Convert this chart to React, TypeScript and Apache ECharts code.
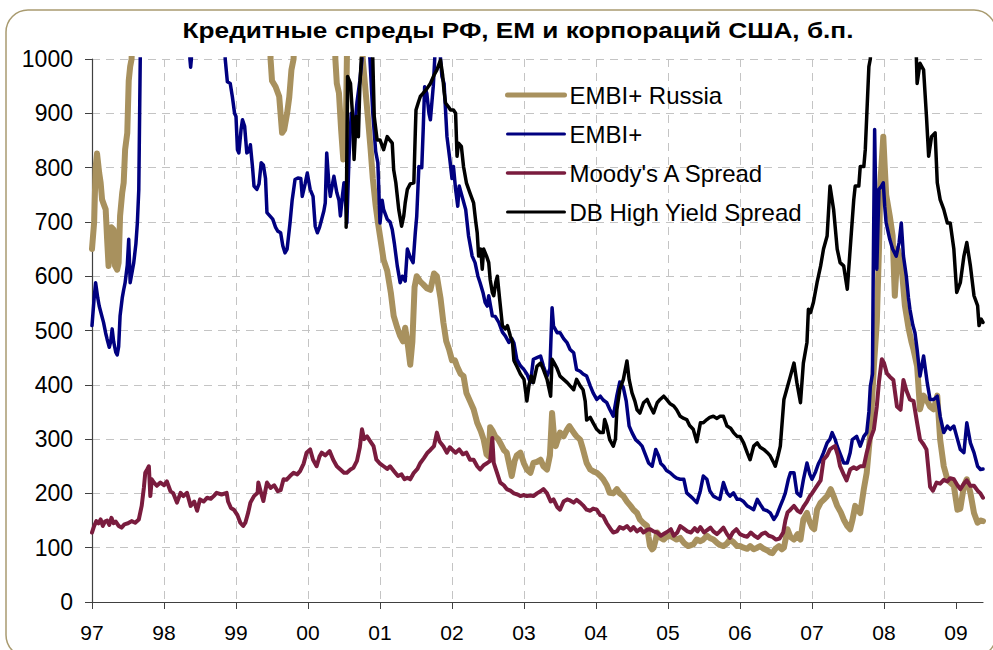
import React, { useEffect, useRef } from "react";
import * as echarts from "echarts";

const TITLE = "Кредитные спреды РФ, ЕМ и корпораций США, б.п.";
const yearTicks = [1997, 1998, 1999, 2000, 2001, 2002, 2003, 2004, 2005, 2006, 2007, 2008, 2009];
const seriesNames = ["EMBI+ Russia", "EMBI+", "Moody's A Spread", "DB High Yield Spread"];

// [year, spread b.p.] — values above 1000 are clipped off the chart
const embiRussia: [number, number][] = [
  [1997.0, 650], [1997.03, 700], [1997.05, 800], [1997.07, 826], [1997.1, 790], [1997.12, 772], [1997.14, 741],
  [1997.17, 730], [1997.19, 723], [1997.21, 668], [1997.23, 619], [1997.25, 640], [1997.27, 690], [1997.3, 686],
  [1997.32, 619], [1997.35, 612], [1997.37, 625], [1997.39, 711], [1997.42, 754], [1997.44, 772], [1997.46, 833],
  [1997.49, 864], [1997.51, 960], [1997.53, 986], [1997.55, 1000], [1997.6, 1400], [1999.45, 1400], [1999.48, 1000],
  [1999.5, 960], [1999.55, 949], [1999.6, 931], [1999.64, 864], [1999.67, 870], [1999.71, 900], [1999.74, 930],
  [1999.77, 980], [1999.8, 1000], [1999.85, 1400], [2000.35, 1400], [2000.38, 1000], [2000.4, 955], [2000.43, 937],
  [2000.46, 870], [2000.49, 815], [2000.52, 820], [2000.54, 1000], [2000.58, 1400], [2000.72, 1400], [2000.76, 1000],
  [2000.8, 940], [2000.84, 880], [2000.87, 833], [2000.9, 780], [2000.94, 730], [2000.97, 700], [2001.0, 674],
  [2001.05, 630], [2001.1, 610], [2001.15, 570], [2001.19, 527], [2001.24, 505], [2001.28, 490], [2001.32, 480],
  [2001.35, 505], [2001.39, 470], [2001.42, 437], [2001.45, 480], [2001.48, 580], [2001.51, 600], [2001.56, 590],
  [2001.6, 585], [2001.65, 578], [2001.7, 575], [2001.75, 605], [2001.79, 600], [2001.84, 560], [2001.88, 515],
  [2001.92, 480], [2001.96, 465], [2002.0, 445], [2002.04, 445], [2002.07, 434], [2002.12, 420], [2002.16, 416],
  [2002.2, 385], [2002.25, 370], [2002.3, 355], [2002.35, 330], [2002.4, 315], [2002.44, 299], [2002.48, 272],
  [2002.51, 268], [2002.53, 322], [2002.56, 316], [2002.6, 305], [2002.64, 300], [2002.67, 293], [2002.72, 280],
  [2002.76, 275], [2002.8, 250], [2002.83, 232], [2002.87, 260], [2002.9, 270], [2002.95, 275], [2003.0, 255],
  [2003.04, 244], [2003.09, 238], [2003.13, 256], [2003.18, 258], [2003.23, 262], [2003.27, 250], [2003.32, 244],
  [2003.36, 270], [2003.39, 348], [2003.42, 300], [2003.44, 287], [2003.5, 312], [2003.55, 305], [2003.6, 318],
  [2003.63, 324], [2003.66, 318], [2003.7, 310], [2003.73, 305], [2003.78, 299], [2003.82, 281], [2003.87, 256],
  [2003.92, 244], [2003.97, 240], [2004.01, 238], [2004.06, 232], [2004.1, 226], [2004.15, 215], [2004.19, 201],
  [2004.24, 200], [2004.29, 208], [2004.33, 200], [2004.38, 195], [2004.43, 185], [2004.48, 177], [2004.52, 170],
  [2004.57, 164], [2004.61, 152], [2004.66, 145], [2004.71, 140], [2004.73, 120], [2004.75, 103], [2004.78, 97],
  [2004.8, 100], [2004.83, 115], [2004.85, 128], [2004.9, 118], [2004.94, 115], [2004.98, 120], [2005.03, 122],
  [2005.08, 118], [2005.12, 115], [2005.17, 118], [2005.22, 109], [2005.28, 103], [2005.35, 106], [2005.4, 115],
  [2005.45, 112], [2005.49, 115], [2005.54, 122], [2005.58, 118], [2005.63, 115], [2005.68, 109], [2005.72, 105],
  [2005.77, 103], [2005.82, 108], [2005.86, 115], [2005.91, 110], [2005.96, 103], [2006.0, 103], [2006.05, 100],
  [2006.1, 98], [2006.14, 103], [2006.19, 97], [2006.24, 100], [2006.28, 103], [2006.33, 98], [2006.38, 95],
  [2006.42, 91], [2006.45, 90], [2006.49, 98], [2006.54, 103], [2006.58, 97], [2006.61, 100], [2006.66, 134],
  [2006.7, 120], [2006.75, 115], [2006.8, 125], [2006.84, 115], [2006.88, 152], [2006.93, 164], [2006.96, 150],
  [2007.0, 138], [2007.03, 134], [2007.07, 170], [2007.12, 183], [2007.16, 188], [2007.21, 195], [2007.26, 208],
  [2007.3, 195], [2007.35, 177], [2007.4, 165], [2007.44, 152], [2007.49, 140], [2007.53, 134], [2007.56, 150],
  [2007.6, 177], [2007.63, 170], [2007.67, 164], [2007.72, 208], [2007.76, 238], [2007.81, 312], [2007.86, 435],
  [2007.9, 515], [2007.93, 650], [2007.95, 772], [2007.99, 857], [2008.01, 802], [2008.03, 750], [2008.08, 711],
  [2008.12, 674], [2008.15, 564], [2008.19, 650], [2008.24, 625], [2008.29, 546], [2008.34, 505], [2008.38, 480],
  [2008.41, 465], [2008.46, 434], [2008.5, 355], [2008.55, 380], [2008.6, 370], [2008.64, 360], [2008.69, 355],
  [2008.74, 380], [2008.78, 299], [2008.83, 250], [2008.88, 226], [2008.92, 220], [2008.97, 214], [2009.02, 170],
  [2009.06, 172], [2009.11, 214], [2009.15, 226], [2009.2, 201], [2009.25, 164], [2009.3, 146], [2009.34, 150],
  [2009.375, 149],
];

const embiPlus: [number, number][] = [
  [1997.0, 509], [1997.03, 560], [1997.05, 588], [1997.08, 560], [1997.1, 545], [1997.13, 530], [1997.16, 515],
  [1997.19, 495], [1997.21, 484], [1997.24, 469], [1997.26, 480], [1997.28, 503], [1997.3, 480], [1997.33, 460],
  [1997.35, 455], [1997.37, 470], [1997.39, 527], [1997.42, 560], [1997.44, 575], [1997.46, 588], [1997.49, 620],
  [1997.51, 668], [1997.53, 588], [1997.56, 610], [1997.58, 625], [1997.61, 660], [1997.63, 698], [1997.65, 760],
  [1997.67, 1000], [1997.7, 1400], [1998.33, 1400], [1998.36, 1000], [1998.37, 985], [1998.38, 1000], [1998.42, 1400],
  [1998.82, 1400], [1998.85, 1000], [1998.88, 958], [1998.92, 955], [1998.95, 930], [1998.98, 900], [1999.0, 894],
  [1999.02, 833], [1999.04, 827], [1999.07, 870], [1999.09, 888], [1999.12, 876], [1999.15, 827], [1999.18, 830],
  [1999.2, 842], [1999.23, 800], [1999.25, 766], [1999.29, 760], [1999.32, 770], [1999.35, 809], [1999.38, 805],
  [1999.41, 780], [1999.43, 717], [1999.47, 711], [1999.51, 705], [1999.55, 690], [1999.58, 683], [1999.62, 680],
  [1999.65, 656], [1999.68, 643], [1999.71, 650], [1999.75, 698], [1999.78, 740], [1999.82, 778], [1999.86, 781],
  [1999.9, 780], [1999.92, 747], [1999.96, 770], [1999.99, 790], [2000.03, 760], [2000.07, 747], [2000.1, 692],
  [2000.13, 680], [2000.16, 690], [2000.19, 705], [2000.22, 720], [2000.24, 735], [2000.26, 827], [2000.29, 770],
  [2000.31, 747], [2000.34, 770], [2000.36, 784], [2000.4, 754], [2000.43, 740], [2000.45, 711], [2000.48, 750],
  [2000.5, 772], [2000.52, 740], [2000.54, 698], [2000.57, 820], [2000.6, 900], [2000.64, 860], [2000.68, 920],
  [2000.72, 960], [2000.75, 1000], [2000.78, 1100], [2000.82, 1050], [2000.86, 1000], [2000.9, 900], [2000.94, 830],
  [2000.97, 809], [2001.0, 698], [2001.03, 740], [2001.05, 723], [2001.1, 705], [2001.14, 700], [2001.17, 686],
  [2001.2, 660], [2001.24, 619], [2001.28, 588], [2001.31, 600], [2001.35, 591], [2001.38, 650], [2001.42, 635],
  [2001.46, 625], [2001.49, 680], [2001.51, 710], [2001.54, 802], [2001.58, 800], [2001.6, 870], [2001.62, 949],
  [2001.65, 937], [2001.68, 900], [2001.7, 888], [2001.74, 950], [2001.76, 1000], [2001.78, 1100], [2001.82, 1100],
  [2001.84, 1000], [2001.86, 968], [2001.89, 955], [2001.93, 857], [2001.97, 815], [2002.0, 780], [2002.02, 802],
  [2002.05, 760], [2002.08, 729], [2002.1, 766], [2002.14, 747], [2002.19, 723], [2002.23, 674], [2002.28, 637],
  [2002.32, 625], [2002.36, 600], [2002.39, 588], [2002.43, 570], [2002.46, 552], [2002.49, 545], [2002.51, 564],
  [2002.56, 527], [2002.6, 526], [2002.65, 515], [2002.7, 497], [2002.74, 490], [2002.79, 478], [2002.83, 485],
  [2002.86, 477], [2002.9, 447], [2002.95, 435], [2003.0, 428], [2003.04, 420], [2003.09, 404], [2003.13, 447],
  [2003.18, 450], [2003.23, 453], [2003.27, 434], [2003.32, 416], [2003.36, 430], [2003.39, 542], [2003.41, 508],
  [2003.46, 496], [2003.5, 496], [2003.55, 485], [2003.6, 477], [2003.64, 465], [2003.69, 459], [2003.73, 428],
  [2003.78, 425], [2003.82, 420], [2003.87, 416], [2003.92, 398], [2003.96, 385], [2004.01, 373], [2004.06, 379],
  [2004.1, 372], [2004.15, 367], [2004.19, 355], [2004.24, 342], [2004.29, 380], [2004.33, 405], [2004.38, 395],
  [2004.42, 370], [2004.46, 324], [2004.5, 312], [2004.55, 299], [2004.6, 293], [2004.64, 287], [2004.69, 270],
  [2004.73, 256], [2004.78, 250], [2004.83, 281], [2004.87, 269], [2004.9, 255], [2004.94, 250], [2004.98, 242],
  [2005.03, 238], [2005.08, 232], [2005.12, 228], [2005.17, 226], [2005.22, 226], [2005.26, 201], [2005.31, 195],
  [2005.35, 190], [2005.4, 183], [2005.45, 205], [2005.49, 232], [2005.54, 226], [2005.58, 205], [2005.63, 195],
  [2005.67, 192], [2005.72, 189], [2005.77, 220], [2005.82, 201], [2005.86, 195], [2005.91, 201], [2005.96, 189],
  [2006.0, 189], [2006.05, 185], [2006.1, 177], [2006.14, 174], [2006.19, 170], [2006.24, 189], [2006.28, 180],
  [2006.33, 170], [2006.38, 168], [2006.42, 164], [2006.47, 152], [2006.51, 160], [2006.56, 177], [2006.6, 190],
  [2006.63, 201], [2006.67, 225], [2006.7, 238], [2006.75, 238], [2006.79, 201], [2006.84, 195], [2006.88, 225],
  [2006.93, 256], [2006.97, 235], [2007.0, 226], [2007.05, 240], [2007.09, 255], [2007.12, 262], [2007.16, 275],
  [2007.21, 293], [2007.25, 300], [2007.28, 312], [2007.32, 300], [2007.35, 287], [2007.4, 270], [2007.44, 256],
  [2007.49, 256], [2007.53, 275], [2007.56, 299], [2007.62, 305], [2007.67, 287], [2007.72, 305], [2007.76, 312],
  [2007.79, 350], [2007.81, 397], [2007.84, 420], [2007.85, 600], [2007.87, 870], [2007.89, 700], [2007.9, 613],
  [2007.93, 760], [2007.96, 765], [2007.99, 772], [2008.01, 729], [2008.03, 698], [2008.08, 668], [2008.12, 650],
  [2008.17, 637], [2008.21, 662], [2008.24, 698], [2008.27, 637], [2008.31, 600], [2008.34, 560], [2008.36, 539],
  [2008.4, 510], [2008.43, 496], [2008.46, 465], [2008.5, 416], [2008.55, 453], [2008.6, 404], [2008.64, 373],
  [2008.69, 373], [2008.74, 379], [2008.78, 342], [2008.83, 312], [2008.88, 324], [2008.92, 318], [2008.97, 324],
  [2009.02, 300], [2009.06, 281], [2009.11, 275], [2009.15, 330], [2009.2, 293], [2009.25, 275], [2009.3, 250],
  [2009.34, 244], [2009.375, 245],
];

const moodysA: [number, number][] = [
  [1997.0, 128], [1997.03, 140], [1997.06, 149], [1997.09, 145], [1997.12, 152], [1997.15, 140], [1997.18, 148],
  [1997.21, 150], [1997.24, 142], [1997.27, 155], [1997.3, 145], [1997.33, 148], [1997.37, 140], [1997.41, 137],
  [1997.45, 143], [1997.5, 145], [1997.55, 149], [1997.6, 146], [1997.65, 152], [1997.69, 177], [1997.72, 210],
  [1997.74, 238], [1997.77, 245], [1997.79, 250], [1997.81, 195], [1997.83, 226], [1997.86, 220], [1997.9, 214],
  [1997.95, 220], [1998.0, 215], [1998.04, 222], [1998.09, 204], [1998.13, 200], [1998.18, 183], [1998.23, 201],
  [1998.27, 195], [1998.32, 201], [1998.37, 177], [1998.42, 185], [1998.46, 168], [1998.5, 189], [1998.55, 185],
  [1998.6, 192], [1998.65, 190], [1998.69, 195], [1998.73, 201], [1998.8, 198], [1998.87, 201], [1998.89, 185],
  [1998.93, 173], [1998.97, 170], [1999.02, 160], [1999.06, 146], [1999.1, 140], [1999.13, 146], [1999.17, 165],
  [1999.2, 183], [1999.25, 195], [1999.3, 201], [1999.31, 220], [1999.34, 205], [1999.38, 186], [1999.43, 220],
  [1999.48, 210], [1999.53, 215], [1999.58, 204], [1999.62, 206], [1999.66, 226], [1999.7, 225], [1999.75, 232],
  [1999.8, 238], [1999.85, 235], [1999.89, 241], [1999.94, 255], [1999.98, 275], [2000.03, 281], [2000.07, 262],
  [2000.12, 250], [2000.16, 268], [2000.19, 275], [2000.24, 270], [2000.3, 278], [2000.35, 262], [2000.4, 250],
  [2000.45, 244], [2000.5, 238], [2000.54, 238], [2000.59, 244], [2000.63, 247], [2000.68, 260], [2000.72, 285],
  [2000.75, 318], [2000.78, 300], [2000.82, 305], [2000.87, 295], [2000.91, 287], [2000.95, 262], [2001.0, 255],
  [2001.05, 250], [2001.1, 245], [2001.14, 250], [2001.2, 240], [2001.25, 232], [2001.3, 235], [2001.34, 226],
  [2001.38, 229], [2001.42, 226], [2001.47, 238], [2001.52, 245], [2001.56, 256], [2001.61, 265], [2001.66, 275],
  [2001.7, 280], [2001.75, 287], [2001.79, 312], [2001.83, 295], [2001.88, 287], [2001.93, 275], [2001.97, 285],
  [2002.0, 281], [2002.05, 275], [2002.1, 281], [2002.15, 272], [2002.2, 275], [2002.25, 262], [2002.3, 262],
  [2002.35, 250], [2002.39, 244], [2002.44, 252], [2002.49, 256], [2002.53, 260], [2002.56, 302], [2002.58, 256],
  [2002.62, 240], [2002.67, 220], [2002.72, 215], [2002.76, 208], [2002.81, 205], [2002.86, 200], [2002.91, 198],
  [2002.95, 195], [2003.0, 197], [2003.04, 195], [2003.09, 196], [2003.13, 195], [2003.18, 200], [2003.23, 204],
  [2003.27, 208], [2003.32, 200], [2003.37, 185], [2003.41, 189], [2003.46, 175], [2003.5, 170], [2003.55, 185],
  [2003.6, 189], [2003.64, 187], [2003.69, 183], [2003.73, 188], [2003.78, 183], [2003.82, 178], [2003.87, 170],
  [2003.92, 168], [2003.96, 172], [2004.01, 170], [2004.06, 160], [2004.1, 158], [2004.15, 145], [2004.2, 135],
  [2004.24, 128], [2004.29, 130], [2004.33, 138], [2004.38, 135], [2004.43, 140], [2004.48, 132], [2004.52, 138],
  [2004.57, 130], [2004.62, 135], [2004.66, 128], [2004.71, 133], [2004.75, 134], [2004.8, 130], [2004.85, 128],
  [2004.9, 122], [2004.95, 126], [2005.0, 130], [2005.04, 134], [2005.08, 122], [2005.13, 128], [2005.17, 140],
  [2005.22, 135], [2005.27, 130], [2005.32, 128], [2005.37, 136], [2005.41, 130], [2005.45, 138], [2005.5, 128],
  [2005.54, 132], [2005.59, 137], [2005.63, 130], [2005.68, 125], [2005.72, 130], [2005.77, 137], [2005.82, 125],
  [2005.86, 118], [2005.9, 128], [2005.95, 134], [2006.0, 125], [2006.05, 122], [2006.1, 120], [2006.15, 128],
  [2006.2, 122], [2006.25, 118], [2006.3, 125], [2006.35, 128], [2006.4, 122], [2006.45, 120], [2006.5, 115],
  [2006.55, 117], [2006.6, 128], [2006.63, 150], [2006.66, 165], [2006.7, 170], [2006.75, 177], [2006.8, 168],
  [2006.84, 165], [2006.88, 175], [2006.93, 185], [2006.97, 195], [2007.0, 200], [2007.05, 210], [2007.09, 218],
  [2007.12, 224], [2007.16, 262], [2007.21, 270], [2007.25, 281], [2007.29, 285], [2007.32, 287], [2007.36, 270],
  [2007.39, 250], [2007.44, 235], [2007.48, 224], [2007.53, 244], [2007.58, 248], [2007.62, 245], [2007.67, 250],
  [2007.72, 250], [2007.76, 275], [2007.81, 300], [2007.86, 318], [2007.9, 360], [2007.93, 405], [2007.97, 447],
  [2008.0, 440], [2008.04, 421], [2008.08, 415], [2008.13, 409], [2008.18, 360], [2008.23, 354], [2008.27, 409],
  [2008.31, 390], [2008.36, 373], [2008.41, 370], [2008.46, 330], [2008.5, 299], [2008.55, 290], [2008.59, 281],
  [2008.62, 240], [2008.64, 212], [2008.68, 205], [2008.73, 220], [2008.78, 218], [2008.83, 225], [2008.88, 222],
  [2008.92, 228], [2008.97, 226], [2009.02, 215], [2009.06, 208], [2009.11, 218], [2009.15, 224], [2009.2, 214],
  [2009.25, 214], [2009.3, 205], [2009.34, 200], [2009.375, 192],
];

const dbHighYield: [number, number][] = [
  [2000.53, 690], [2000.55, 968], [2000.59, 955], [2000.62, 894], [2000.64, 815], [2000.67, 894], [2000.7, 857],
  [2000.72, 950], [2000.74, 1000], [2000.76, 1100], [2000.88, 1100], [2000.9, 1000], [2000.92, 894], [2000.96, 851],
  [2001.0, 851], [2001.05, 833], [2001.1, 857], [2001.14, 850], [2001.17, 845], [2001.19, 796], [2001.22, 772],
  [2001.26, 723], [2001.3, 692], [2001.33, 711], [2001.35, 735], [2001.38, 760], [2001.42, 770], [2001.47, 772],
  [2001.49, 864], [2001.5, 906], [2001.53, 919], [2001.56, 931], [2001.6, 937], [2001.65, 945], [2001.7, 955],
  [2001.75, 970], [2001.79, 980], [2001.84, 998], [2001.87, 970], [2001.89, 940], [2001.91, 919], [2001.95, 912],
  [2001.98, 906], [2002.02, 906], [2002.05, 900], [2002.07, 821], [2002.09, 845], [2002.13, 839], [2002.16, 802],
  [2002.2, 772], [2002.25, 753], [2002.3, 735], [2002.33, 700], [2002.35, 680], [2002.37, 637], [2002.4, 650],
  [2002.42, 613], [2002.44, 650], [2002.48, 637], [2002.51, 625], [2002.53, 594], [2002.56, 570], [2002.58, 564],
  [2002.61, 590], [2002.63, 600], [2002.66, 560], [2002.7, 509], [2002.74, 503], [2002.77, 509], [2002.81, 490],
  [2002.84, 478], [2002.86, 445], [2002.9, 434], [2002.95, 420], [2003.0, 410], [2003.04, 370], [2003.07, 400],
  [2003.1, 416], [2003.13, 404], [2003.18, 434], [2003.23, 440], [2003.27, 428], [2003.32, 410], [2003.37, 379],
  [2003.39, 447], [2003.42, 440], [2003.46, 430], [2003.5, 416], [2003.55, 410], [2003.6, 404], [2003.64, 398],
  [2003.69, 391], [2003.73, 410], [2003.78, 398], [2003.82, 391], [2003.85, 370], [2003.87, 335], [2003.92, 340],
  [2003.96, 330], [2004.01, 318], [2004.06, 312], [2004.1, 312], [2004.12, 336], [2004.15, 324], [2004.19, 299],
  [2004.24, 287], [2004.27, 300], [2004.29, 354], [2004.33, 391], [2004.38, 410], [2004.43, 444], [2004.46, 410],
  [2004.5, 385], [2004.54, 370], [2004.57, 354], [2004.61, 348], [2004.66, 367], [2004.71, 373], [2004.75, 361],
  [2004.8, 348], [2004.85, 367], [2004.89, 373], [2004.94, 379], [2004.98, 373], [2005.03, 365], [2005.08, 361],
  [2005.12, 354], [2005.17, 342], [2005.22, 338], [2005.26, 336], [2005.3, 325], [2005.35, 318], [2005.4, 295],
  [2005.45, 330], [2005.49, 330], [2005.54, 336], [2005.58, 340], [2005.63, 342], [2005.68, 338], [2005.72, 342],
  [2005.77, 342], [2005.82, 324], [2005.87, 320], [2005.91, 312], [2005.96, 305], [2006.0, 305], [2006.05, 293],
  [2006.1, 275], [2006.14, 262], [2006.19, 287], [2006.24, 293], [2006.28, 285], [2006.33, 281], [2006.38, 275],
  [2006.42, 269], [2006.47, 256], [2006.49, 250], [2006.53, 270], [2006.56, 287], [2006.61, 373], [2006.66, 397],
  [2006.7, 416], [2006.75, 440], [2006.79, 404], [2006.84, 367], [2006.88, 440], [2006.93, 478], [2006.95, 539],
  [2006.98, 533], [2007.02, 552], [2007.07, 588], [2007.12, 619], [2007.16, 650], [2007.21, 674], [2007.25, 766],
  [2007.3, 723], [2007.35, 650], [2007.39, 625], [2007.44, 619], [2007.49, 576], [2007.53, 650], [2007.58, 741],
  [2007.6, 766], [2007.65, 766], [2007.67, 802], [2007.72, 802], [2007.74, 833], [2007.76, 894], [2007.79, 986],
  [2007.81, 1000], [2007.85, 1200], [2008.42, 1200], [2008.45, 1000], [2008.46, 955], [2008.5, 992], [2008.55, 980],
  [2008.59, 894], [2008.62, 821], [2008.66, 857], [2008.71, 864], [2008.74, 772], [2008.78, 741], [2008.83, 723],
  [2008.88, 698], [2008.92, 698], [2008.97, 650], [2009.01, 570], [2009.06, 588], [2009.11, 637], [2009.15, 662],
  [2009.2, 619], [2009.25, 564], [2009.3, 546], [2009.32, 509], [2009.35, 521], [2009.375, 515],
];

const COLORS = ["#A8915E", "#000080", "#7A1C3E", "#000000"];
const WIDTHS = [6, 3.5, 4, 3.5];
const LEGEND_WIDTHS = [5, 3, 3.5, 3];
const FONT = '"Liberation Sans", Arial, Helvetica, sans-serif';

export default function App() {
  const ref = useRef<HTMLDivElement>(null);
  useEffect(() => {
    if (!ref.current) return;
    const chart = echarts.init(ref.current, null, { renderer: "svg" });
    const dataSets = [embiRussia, embiPlus, moodysA, dbHighYield];
    const gridDash = { color: "#c4c4c4", width: 1, type: [8, 6] as any };
    chart.setOption({
      animation: false,
      backgroundColor: "#ffffff",
      textStyle: { fontFamily: FONT },
      grid: { left: 92, right: 10, top: 59, bottom: 48, containLabel: false, outerBoundsMode: "none" } as any,
      graphic: [
        {
          type: "rect",
          shape: { x: 6, y: 10, width: 990, height: 647, r: 22 },
          style: { fill: "none", stroke: "#A99B70", lineWidth: 1.5 },
          silent: true,
          z: -10,
        },
        {
          type: "text",
          x: 518,
          y: 30,
          scaleX: 1.19,
          style: {
            text: TITLE,
            font: `bold 22px ${FONT}`,
            fill: "#000",
            textAlign: "center",
            textVerticalAlign: "middle",
            align: "center",
            verticalAlign: "middle",
          },
        },
      ],
      legend: {
        orient: "vertical",
        left: 505,
        top: 83,
        padding: 0,
        itemWidth: 57,
        itemHeight: 2,
        itemGap: 15,
        itemStyle: { opacity: 0 },
        data: seriesNames.map((name, i) => ({
          name,
          itemStyle: { opacity: 0 },
          lineStyle: { width: LEGEND_WIDTHS[i], color: COLORS[i], cap: "round" },
        })),
        textStyle: { fontSize: 24, color: "#000", fontFamily: FONT },
      },
      xAxis: {
        type: "value",
        min: 1997,
        max: 2009.375,
        interval: 1,
        axisLine: { show: true, lineStyle: { color: "#404040", width: 1.2 } },
        axisTick: { show: true, length: 7, lineStyle: { color: "#404040" }, customValues: yearTicks },
        axisLabel: {
          color: "#000",
          fontSize: 21,
          fontFamily: FONT,
          margin: 20,
          customValues: yearTicks,
          formatter: (v: number) => (Math.abs(v - Math.round(v)) < 1e-6 ? String(Math.round(v) % 100).padStart(2, "0") : ""),
        },
        splitLine: { show: true, lineStyle: gridDash, showMaxLine: false, showMinLine: false },
      } as any,
      yAxis: {
        type: "value",
        min: 0,
        max: 1000,
        interval: 100,
        axisLine: { show: true, lineStyle: { color: "#404040", width: 1.2 } },
        axisTick: { show: true, length: 7, lineStyle: { color: "#404040" } },
        axisLabel: { color: "#000", fontSize: 23, fontFamily: FONT, margin: 19, formatter: (v: number) => String(v) },
        splitLine: { show: true, lineStyle: gridDash, showMinLine: false },
      } as any,
      series: seriesNames.map((name, i) => ({
        name,
        type: "line",
        data: dataSets[i],
        showSymbol: false,
        symbol: "none",
        clip: true,
        lineStyle: { color: COLORS[i], width: WIDTHS[i], cap: "round", join: "round" },
        itemStyle: { color: COLORS[i] },
        emphasis: { disabled: true },
        z: 2 + i,
      })),
    });
    return () => chart.dispose();
  }, []);
  return <div ref={ref} style={{ position: "absolute", left: 0, top: 0, width: 993, height: 650 }} />;
}
